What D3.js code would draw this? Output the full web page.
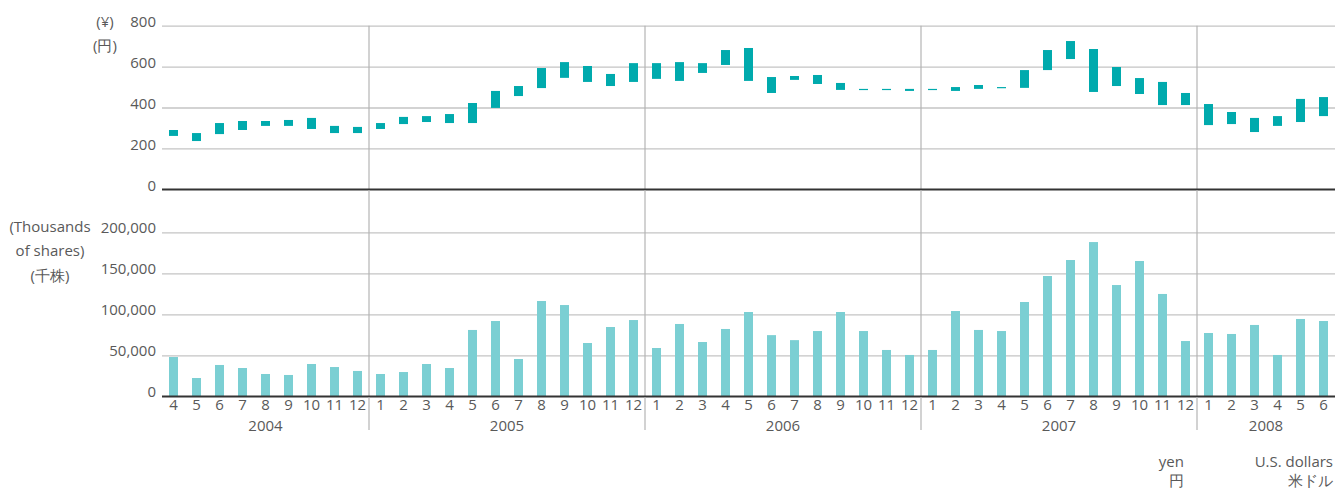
<!DOCTYPE html>
<html>
<head>
<meta charset="utf-8">
<script src="https://cdn.jsdelivr.net/npm/d3@7"></script>
<style>
  body { margin: 0; background: #fff; }
  svg text { font-family: "Open Sans", "Noto Sans", sans-serif; fill: #595959; }
</style>
</head>
<body>
<div id="chart"></div>
<script>
// monthly share price range (yen) and trading volume (thousands of shares), Apr 2004 - Jun 2008
var monthLabels = [4,5,6,7,8,9,10,11,12,
  1,2,3,4,5,6,7,8,9,10,11,12,
  1,2,3,4,5,6,7,8,9,10,11,12,
  1,2,3,4,5,6,7,8,9,10,11,12,
  1,2,3,4,5,6];
var yearLabels = ["2004", "2005", "2006", "2007", "2008"];

var priceHigh = [290,275,324,334,334,339,349,310,305,
  324,354,358,368,422,481,505,593,622,603,564,617,
  617,622,617,681,691,549,554,559,520,491,491,491,
  491,500,510,500,583,681,725,686,598,544,525,471,
  417,378,349,358,442,451];
var priceLow = [261,236,270,290,310,310,295,275,275,
  295,319,329,324,324,398,456,495,545,525,505,525,
  540,530,569,608,530,471,535,515,486,486,486,481,
  486,481,491,496,496,583,637,476,505,466,412,412,
  314,319,280,310,329,358];

var volume = [47900,22300,38200,34500,27200,26000,39400,35700,30900,
  27200,29600,39400,34500,80900,91800,45500,116200,111300,65000,84500,93000,
  58900,88200,66200,82100,102800,74600,68500,79600,102800,79600,56500,50400,
  56500,104000,80900,79600,115000,146700,166200,188100,135700,165000,124800,67400,
  77200,76000,87000,50400,94300,91800];

var priceTicks = [0, 200, 400, 600, 800];
var volumeTicks = [0, 50000, 100000, 150000, 200000];

var svgWidth = 1338;
var svgHeight = 490;
var left = 162, right = 1335;

var svg = d3.select("#chart")
  .append("svg")
  .attr("width", svgWidth)
  .attr("height", svgHeight);

var idx = d3.range(monthLabels.length);

var x = d3.scaleBand()
  .domain(idx)
  .range([left, right])
  .paddingInner(14 / 23)
  .paddingOuter(7 / 23);

var yPrice = d3.scaleLinear().domain([0, 800]).range([189.3, 25.7]);
var yVol = d3.scaleLinear().domain([0, 200000]).range([396.3, 232.3]);

// year of each month, counted from the first one
var yearIdx = [];
var yr = 0;
monthLabels.forEach(function(m, i) {
  if (i > 0 && m == 1) yr++;
  yearIdx.push(yr);
});

// --- gridlines + y axes
function drawAxis(scale, ticks, fmt, dy) {
  var g = svg.append("g")
    .attr("transform", `translate(${left},0)`)
    .call(d3.axisLeft(scale)
      .tickValues(ticks)
      .tickFormat(fmt)
      .tickSizeInner(-(right - left))
      .tickSizeOuter(0)
      .tickPadding(6));
  g.select(".domain").remove();
  g.selectAll(".tick line")
    .attr("stroke", function(d) { return d == 0 ? "#333" : "#c4c4c4"; })
    .attr("stroke-width", function(d) { return d == 0 ? 1.5 : 1.3; });
  g.selectAll(".tick text")
    .attr("dy", dy)
    .style("font-size", "15px")
    .attr("fill", "#595959");
  return g;
}

drawAxis(yPrice, priceTicks, d3.format("d"), "0.05em");
drawAxis(yVol, volumeTicks, d3.format(","), "-0.02em");

// year dividers
var starts = idx.filter(function(i) { return i > 0 && monthLabels[i] == 1; });
svg.selectAll(".divider")
  .data(starts)
  .enter()
  .append("line")
  .attr("class", "divider")
  .attr("x1", function(i) { return x(i) - 7; })
  .attr("x2", function(i) { return x(i) - 7; })
  .attr("y1", 25.7)
  .attr("y2", 430)
  .attr("stroke", "#b4b4b4")
  .attr("stroke-width", 1.2);

// price range bars
svg.selectAll(".price")
  .data(idx)
  .enter()
  .append("rect")
  .attr("class", "price")
  .attr("x", function(i) { return x(i); })
  .attr("width", x.bandwidth())
  .attr("y", function(i) { return yPrice(priceHigh[i]); })
  .attr("height", function(i) {
    return Math.max(1.2, yPrice(priceLow[i]) - yPrice(priceHigh[i]));
  })
  .attr("fill", "#00aaad");

// volume bars
svg.selectAll(".vol")
  .data(idx)
  .enter()
  .append("rect")
  .attr("class", "vol")
  .attr("x", function(i) { return x(i); })
  .attr("width", x.bandwidth())
  .attr("y", function(i) { return yVol(volume[i]); })
  .attr("height", function(i) { return yVol(0) - yVol(volume[i]); })
  .attr("fill", "#7bcfd3");

// redraw the zero lines on top of the bars
[yPrice(0), yVol(0)].forEach(function(yy) {
  svg.append("line")
    .attr("x1", left).attr("x2", right)
    .attr("y1", yy).attr("y2", yy)
    .attr("stroke", "#333").attr("stroke-width", 1.5);
});

// month axis
var xAxis = svg.append("g")
  .attr("transform", `translate(0,${yVol(0)})`)
  .call(d3.axisBottom(x)
    .tickSize(0)
    .tickPadding(3.5)
    .tickFormat(function(i) { return monthLabels[i]; }));
xAxis.select(".domain").remove();
xAxis.selectAll(".tick text")
  .style("font-size", "15px")
  .attr("fill", "#595959");

// year labels under each group
var yearData = yearLabels.map(function(label, k) {
  var ms = idx.filter(function(i) { return yearIdx[i] == k; });
  return { label: label, first: ms[0], last: ms[ms.length - 1] };
});
svg.selectAll(".year")
  .data(yearData)
  .enter()
  .append("text")
  .attr("class", "year")
  .attr("x", function(d) { return (x(d.first) + x(d.last) + x.bandwidth()) / 2; })
  .attr("y", 431)
  .attr("text-anchor", "middle")
  .style("font-size", "15px")
  .text(function(d) { return d.label; });

// unit labels
function label(txt, xx, yy, anchor) {
  svg.append("text")
    .attr("x", xx).attr("y", yy)
    .attr("text-anchor", anchor)
    .style("font-size", "15px")
    .text(txt);
}
label("(¥)", 105, 27, "middle");
label("(円)", 105, 51, "middle");
label("(Thousands", 50, 232, "middle");
label("of shares)", 50, 256, "middle");
label("(千株)", 50, 281, "middle");

label("yen", 1184, 467, "end");
label("円", 1184, 486, "end");
label("U.S. dollars", 1333, 467, "end");
label("米ドル", 1333, 486, "end");
</script>
</body>
</html>
